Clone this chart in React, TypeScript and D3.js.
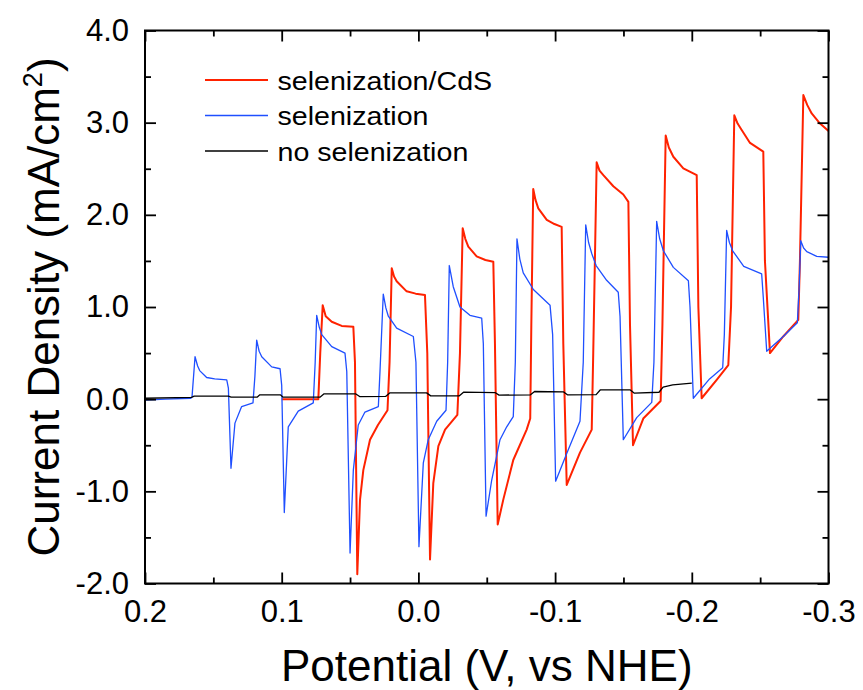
import { useEffect, useRef } from 'react'
import { select, scaleLinear, axisBottom, axisLeft, axisTop, axisRight, line } from 'd3'

// potential (V vs NHE), current density (mA/cm2)
const potentialTicks = [0.2, 0.1, 0.0, -0.1, -0.2, -0.3]
const potentialMinor = [0.15, 0.05, -0.05, -0.15, -0.25]
const currentTicks = [-2, -1, 0, 1, 2, 3, 4]
const currentMinor = [-1.5, -0.5, 0.5, 1.5, 2.5, 3.5]

const seriesNames = ['selenization/CdS', 'selenization', 'no selenization']
const seriesColors = ['#ff2200', '#1f4fff', '#000000']

const selenizationCdS: [number, number][] = [
  [0.1, 0.0], [0.0732, 0.0], [0.0718, 0.5], [0.07, 1.02], [0.0678, 0.9], [0.0634, 0.84], [0.0561, 0.795], [0.0476, 0.785],
  [0.0464, 0.4], [0.0447, -1.9], [0.0427, -1.09], [0.0403, -0.77], [0.0354, -0.44], [0.0296, -0.28], [0.0226, -0.12],
  [0.0211, 0.4], [0.0195, 1.42], [0.0178, 1.33], [0.0159, 1.28], [0.0086, 1.17], [0.002, 1.145], [-0.0048, 1.13],
  [-0.0065, 0.5], [-0.0085, -1.74], [-0.0109, -0.91], [-0.0146, -0.51], [-0.0195, -0.33], [-0.0285, -0.17],
  [-0.0304, 0.5], [-0.0324, 1.855], [-0.0343, 1.74], [-0.0365, 1.655], [-0.0426, 1.55], [-0.049, 1.51], [-0.0548, 1.49],
  [-0.056, 0.6], [-0.058, -1.36], [-0.0621, -1.09], [-0.0694, -0.66], [-0.0792, -0.33], [-0.0818, -0.21],
  [-0.0826, 0.8], [-0.084, 2.28], [-0.0857, 2.16], [-0.0877, 2.07], [-0.0939, 1.945], [-0.0995, 1.9], [-0.1048, 1.87],
  [-0.106, 0.6], [-0.1085, -0.93], [-0.1182, -0.58], [-0.1268, -0.33],
  [-0.1279, 0.5], [-0.1304, 2.57], [-0.1325, 2.48], [-0.1353, 2.43], [-0.1426, 2.31], [-0.1499, 2.22], [-0.1536, 2.14],
  [-0.1548, 0.8], [-0.157, -0.5], [-0.1645, -0.21], [-0.1772, -0.02],
  [-0.1785, 0.8], [-0.1809, 2.86], [-0.1832, 2.73], [-0.1865, 2.63], [-0.1938, 2.505], [-0.2036, 2.43],
  [-0.2048, 1.0], [-0.2072, 0.01], [-0.2182, 0.21], [-0.2267, 0.37],
  [-0.2287, 1.0], [-0.2311, 3.08], [-0.2335, 2.99], [-0.2365, 2.92], [-0.2426, 2.78], [-0.2523, 2.685],
  [-0.2535, 1.5], [-0.2572, 0.5], [-0.2669, 0.68], [-0.2779, 0.86],
  [-0.2791, 1.5], [-0.2816, 3.3], [-0.2845, 3.19], [-0.2877, 3.1], [-0.2938, 2.99], [-0.3, 2.91],
]

const selenization: [number, number][] = [
  [0.2, -0.01], [0.185, 0.0], [0.1665, 0.01], [0.1656, 0.025], [0.1634, 0.46], [0.1615, 0.36], [0.16, 0.31],
  [0.1549, 0.235], [0.149, 0.22], [0.1402, 0.21],
  [0.139, 0.12], [0.1371, -0.75], [0.1342, -0.26], [0.1293, -0.08], [0.121, -0.04],
  [0.1196, 0.25], [0.1183, 0.64], [0.1165, 0.52], [0.1146, 0.46], [0.1073, 0.35], [0.1012, 0.33],
  [0.1, 0.15], [0.0981, -1.23], [0.0952, -0.3], [0.0879, -0.13], [0.0769, -0.04],
  [0.0755, 0.4], [0.0744, 0.91], [0.0725, 0.78], [0.0707, 0.7], [0.0634, 0.57], [0.0537, 0.5],
  [0.0524, 0.3], [0.05, -1.67], [0.0476, -0.77], [0.044, -0.28], [0.0391, -0.14], [0.0293, -0.08],
  [0.0281, 0.3], [0.0257, 1.14], [0.0238, 0.99], [0.022, 0.9], [0.0159, 0.77], [0.0037, 0.68],
  [0.0018, 0.4], [-0.0004, -1.6], [-0.0036, -0.69], [-0.0072, -0.44], [-0.0134, -0.24], [-0.0202, -0.12],
  [-0.0214, 0.4], [-0.0226, 1.45], [-0.0255, 1.22], [-0.0304, 1.0], [-0.0377, 0.91], [-0.0463, 0.88],
  [-0.0475, 0.6], [-0.0495, -1.27], [-0.0536, -0.88], [-0.0597, -0.44], [-0.0646, -0.3], [-0.0694, -0.19],
  [-0.0709, 0.4], [-0.0721, 1.74], [-0.0742, 1.52], [-0.0767, 1.37], [-0.0841, 1.19], [-0.0963, 1.02],
  [-0.0982, 0.7], [-0.1004, -0.89], [-0.1085, -0.59], [-0.1182, -0.24],
  [-0.1206, 0.4], [-0.1224, 1.89], [-0.1245, 1.7], [-0.1268, 1.58], [-0.13, 1.45], [-0.1377, 1.29], [-0.1462, 1.16],
  [-0.1475, 0.9], [-0.1499, -0.44], [-0.1597, -0.2], [-0.1707, -0.035],
  [-0.1723, 0.4], [-0.1743, 1.93], [-0.1765, 1.74], [-0.1792, 1.61], [-0.1865, 1.43], [-0.1975, 1.285],
  [-0.1987, 1.0], [-0.2011, 0.01], [-0.213, 0.22], [-0.2226, 0.34],
  [-0.2238, 0.7], [-0.2255, 1.83], [-0.2275, 1.7], [-0.2299, 1.61], [-0.238, 1.44], [-0.2511, 1.36],
  [-0.2523, 1.1], [-0.2548, 0.52], [-0.2669, 0.68], [-0.2772, 0.83],
  [-0.2785, 1.2], [-0.2797, 1.72], [-0.2818, 1.64], [-0.2841, 1.6], [-0.2914, 1.55], [-0.3, 1.54],
]

const noSelenization: [number, number][] = [
  [0.2, 0.01], [0.166, 0.02], [0.164, 0.033], [0.139, 0.033], [0.137, 0.022], [0.118, 0.022], [0.116, 0.047],
  [0.101, 0.047], [0.099, 0.022], [0.072, 0.022], [0.069, 0.058], [0.046, 0.058], [0.043, 0.028], [0.024, 0.03],
  [0.021, 0.068], [-0.006, 0.068], [-0.009, 0.036], [-0.03, 0.036], [-0.033, 0.076], [-0.056, 0.072],
  [-0.059, 0.044], [-0.082, 0.047], [-0.085, 0.083], [-0.106, 0.08], [-0.109, 0.047], [-0.13, 0.05],
  [-0.133, 0.1], [-0.155, 0.1], [-0.158, 0.065], [-0.176, 0.075], [-0.179, 0.13], [-0.186, 0.155], [-0.2, 0.174],
]

const W = 863
const H = 690
const margin = { top: 30.5, right: 34.5, bottom: 106.5, left: 145 }
const FONT = '"Liberation Sans", Arial, sans-serif'

export default function App() {
  const svgRef = useRef<SVGSVGElement>(null)
  const innerW = W - margin.left - margin.right
  const innerH = H - margin.top - margin.bottom

  const x = scaleLinear().domain([0.2, -0.3]).range([0, innerW])
  const y = scaleLinear().domain([-2, 4]).range([innerH, 0])

  const myLine = line<[number, number]>()
    .x(d => x(d[0]))
    .y(d => y(d[1]))

  const series = [selenizationCdS, selenization, noSelenization]
  const widths = [2, 1.3, 1.3]

  useEffect(() => {
    const svg = select(svgRef.current)
    const g = svg.select('.axes')
    const fmt = (d: any) => (+d).toFixed(1)
    const none = () => ''

    g.select('.x-axis').attr('transform', `translate(0,${innerH})`)
      .call(axisBottom(x).tickValues(potentialTicks).tickFormat(fmt).tickSize(-11).tickPadding(16) as any)
    g.select('.x-minor').attr('transform', `translate(0,${innerH})`)
      .call(axisBottom(x).tickValues(potentialMinor).tickFormat(none).tickSize(-6) as any)
    g.select('.x-top').call(axisTop(x).tickValues(potentialTicks).tickFormat(none).tickSize(-11) as any)
    g.select('.x-top-minor').call(axisTop(x).tickValues(potentialMinor).tickFormat(none).tickSize(-6) as any)

    g.select('.y-axis').call(axisLeft(y).tickValues(currentTicks).tickFormat(fmt).tickSize(-11).tickPadding(16) as any)
    g.select('.y-minor').call(axisLeft(y).tickValues(currentMinor).tickFormat(none).tickSize(-6) as any)
    g.select('.y-right').attr('transform', `translate(${innerW},0)`)
      .call(axisRight(y).tickValues(currentTicks).tickFormat(none).tickSize(-11) as any)
    g.select('.y-right-minor').attr('transform', `translate(${innerW},0)`)
      .call(axisRight(y).tickValues(currentMinor).tickFormat(none).tickSize(-6) as any)

    g.selectAll('.domain').remove()
    g.selectAll('.tick line').attr('stroke', '#000').attr('stroke-width', 1.8)
    g.selectAll('g.x-axis, g.y-axis').attr('font-size', 31).attr('font-family', FONT)
    g.selectAll('.tick text').attr('fill', '#000')
  }, [])

  return (
    <svg ref={svgRef} width={W} height={H} style={{ position: 'absolute', left: 0, top: 0, background: '#fff' }}>
      <defs>
        <clipPath id="plotClip">
          <rect x={0} y={0} width={innerW} height={innerH} />
        </clipPath>
      </defs>
      <g transform={`translate(${margin.left},${margin.top})`}>
        <g clipPath="url(#plotClip)">
          {series.map((s, i) => (
            <path key={seriesNames[i]} d={myLine(s) || ''} fill="none" stroke={seriesColors[i]}
              strokeWidth={widths[i]} strokeLinejoin="round" />
          ))}
        </g>
        <rect x={0} y={0} width={innerW} height={innerH} fill="none" stroke="#000" strokeWidth={2} />
        <g className="axes">
          <g className="x-axis" />
          <g className="x-minor" />
          <g className="x-top" />
          <g className="x-top-minor" />
          <g className="y-axis" />
          <g className="y-minor" />
          <g className="y-right" />
          <g className="y-right-minor" />
        </g>
        {seriesNames.map((name, i) => (
          <g key={name} transform={`translate(60,${49.5 + i * 35.5})`}>
            <line x1={0} x2={63} y1={0} y2={0} stroke={seriesColors[i]} strokeWidth={widths[i]} />
            <g transform="translate(72.5,9.5) scale(1.1,1)">
              <text x={0} y={0} fontSize={26} fontFamily={FONT} fill="#000">{name}</text>
            </g>
          </g>
        ))}
      </g>
      <text x={margin.left + innerW / 2} y={681} textAnchor="middle" fontSize={44} fontFamily={FONT} fill="#000">
        Potential (V, vs NHE)
      </text>
      <text transform={`translate(59,${margin.top + innerH / 2}) rotate(-90)`} textAnchor="middle" fontSize={44}
        fontFamily={FONT} fill="#000">
        Current Density (mA/cm<tspan dy={-17} fontSize={27}>2</tspan><tspan dy={17}>)</tspan>
      </text>
    </svg>
  )
}
